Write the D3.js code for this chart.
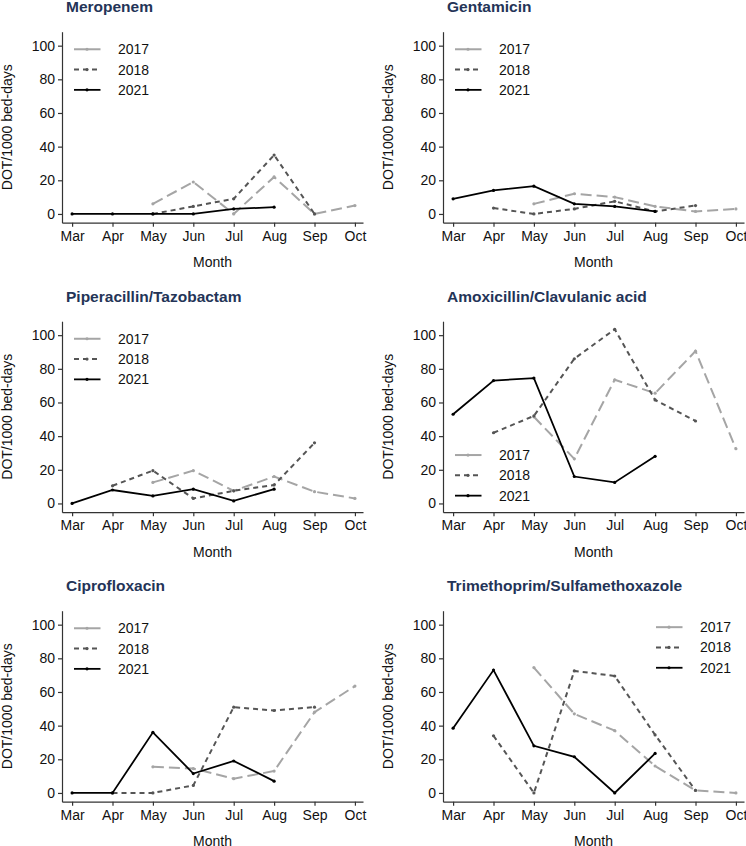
<!DOCTYPE html>
<html><head><meta charset="utf-8">
<script src="https://cdn.jsdelivr.net/npm/d3@7"></script>
<style>
body{margin:0;background:#fff;}
svg{display:block;font-family:"Liberation Sans",Arial,sans-serif;}
</style></head>
<body>
<div id="chart"></div>
<script>
const months = ["Mar","Apr","May","Jun","Jul","Aug","Sep","Oct"];
const years = ["2017","2018","2021"];
const drugs = ["Meropenem","Gentamicin","Piperacillin/Tazobactam","Amoxicillin/Clavulanic acid","Ciprofloxacin","Trimethoprim/Sulfamethoxazole"];
const yTicks = [0,20,40,60,80,100];

// values per drug: [2017, 2018, 2021], months Mar..Oct (null = no data)
const meropenem2017 = [null,null,6,19,0,22,0,5];
const meropenem2018 = [null,null,0,4.5,9,35,0,null];
const meropenem2021 = [0,0,0,0,3,4,null,null];

const gentamicin2017 = [null,null,6,12,10,4.5,1.5,3];
const gentamicin2018 = [null,3.5,0,3,7.5,1.5,5,null];
const gentamicin2021 = [9,14,16.5,6,4.5,1.5,null,null];

const pipTaz2017 = [null,null,12.5,19.5,7.5,16,7,3];
const pipTaz2018 = [null,10.5,19.5,3,7.5,11,36,null];
const pipTaz2021 = [0,8,4.5,8.5,1.5,8.5,null,null];

const amoxClav2017 = [null,null,51.5,26.5,73.5,65.5,90.5,32.5];
const amoxClav2018 = [null,42,52,86,103.5,61.5,49,null];
const amoxClav2021 = [53,73,74.5,16,12.5,28,null,null];

const cipro2017 = [null,null,15.5,14.5,8.5,13,48,63.5];
const cipro2018 = [null,0,0,4.5,51,49,51,null];
const cipro2021 = [0,0,36,11.5,19,7,null,null];

const tmpSmx2017 = [null,null,74.5,47,37,16,1.5,0];
const tmpSmx2018 = [null,34,0,72.5,69.5,34.5,1.5,null];
const tmpSmx2021 = [38.5,73,28,21.5,0,23.5,null,null];

const seriesByDrug = [
  [meropenem2017, meropenem2018, meropenem2021],
  [gentamicin2017, gentamicin2018, gentamicin2021],
  [pipTaz2017, pipTaz2018, pipTaz2021],
  [amoxClav2017, amoxClav2018, amoxClav2021],
  [cipro2017, cipro2018, cipro2021],
  [tmpSmx2017, tmpSmx2018, tmpSmx2021]
];

const styles = {
  "2017": {color:"#a5a5a5", dash:"11,5", width:2},
  "2018": {color:"#555555", dash:"5,4", width:2},
  "2021": {color:"#000000", dash:null, width:1.8}
};
// legend placement per panel: "tl" top-left, "bl" bottom-left, "tr" top-right
const legendPos = ["tl","tl","tl","bl","tl","tr"];

const W = 746, H = 846;
const FS = 14;
const svg = d3.select("#chart").append("svg").attr("width",W).attr("height",H);

const colX = [62, 443];
const rowTop = [31.7, 321.2, 610.7];
const plotH = 191, plotW = 301;

drugs.forEach((drug, i) => {
  const ax = colX[i % 2], top = rowTop[Math.floor(i / 2)];
  const g = svg.append("g");
  const x = d3.scaleLinear().domain([-0.25, 7.2]).range([ax, ax + plotW]);
  const y = d3.scaleLinear().domain([-5.2, 108.3]).range([top + plotH, top]);

  // title
  g.append("text").attr("x", ax + 4).attr("y", top - 19.5)
    .attr("font-size", 15.5).attr("font-weight", "bold").attr("fill", "#243457")
    .text(drug);

  // axes
  const yAxis = g.append("g").attr("transform", `translate(${ax},0)`)
    .call(d3.axisLeft(y).tickValues(yTicks).tickSize(4).tickSizeOuter(0).tickPadding(3));
  const xAxis = g.append("g").attr("transform", `translate(0,${top + plotH})`)
    .call(d3.axisBottom(x).tickValues(d3.range(months.length)).tickFormat(k => months[k]).tickSize(4).tickSizeOuter(0).tickPadding(4));
  [yAxis, xAxis].forEach(a => {
    a.selectAll("path,line").attr("stroke", "#333").attr("stroke-width", 1.2);
    a.selectAll("text").attr("font-size", FS).attr("fill", "#111").attr("font-family", "Liberation Sans, Arial, sans-serif");
  });

  g.append("text").attr("x", ax + plotW / 2).attr("y", top + plotH + 44.5)
    .attr("text-anchor", "middle").attr("font-size", FS).attr("fill", "#111").text("Month");
  g.append("text").attr("transform", `translate(${ax - 50},${top + plotH / 2}) rotate(-90)`)
    .attr("text-anchor", "middle").attr("font-size", FS).attr("fill", "#111").text("DOT/1000 bed-days");

  // lines
  const line = d3.line().defined(d => d.v !== null).x(d => x(d.k)).y(d => y(d.v));
  years.forEach((yr, s) => {
    const st = styles[yr];
    const data = seriesByDrug[i][s].map((v, k) => ({k, v}));
    g.append("path").datum(data).attr("d", line).attr("fill", "none")
      .attr("stroke", st.color).attr("stroke-width", st.width)
      .attr("stroke-dasharray", st.dash).attr("stroke-linejoin", "miter");
    g.selectAll(null).data(data.filter(d => d.v !== null)).enter().append("circle")
      .attr("cx", d => x(d.k)).attr("cy", d => y(d.v)).attr("r", 1.6).attr("fill", st.color);
  });

  // legend
  const pos = legendPos[i];
  let lx, ly;
  if (pos === "tl") { lx = ax + 12; ly = y(100) + 3.6; }
  else if (pos === "bl") { lx = ax + 12; ly = y(0) - 48.4; }
  else { lx = ax + 213; ly = y(100) + 2.5; }
  years.forEach((yr, s) => {
    const st = styles[yr];
    const yy = ly + s * 20.3;
    g.append("line").attr("x1", lx).attr("x2", lx + 26.5).attr("y1", yy).attr("y2", yy)
      .attr("stroke", st.color).attr("stroke-width", st.width)
      .attr("stroke-dasharray", yr === "2018" ? "5,4" : null);
    g.append("circle").attr("cx", lx + 13).attr("cy", yy).attr("r", 1.6).attr("fill", st.color);
    g.append("text").attr("x", lx + 44).attr("y", yy + 5).attr("font-size", FS)
      .attr("fill", "#111").text(yr);
  });
});
</script>
</body></html>
